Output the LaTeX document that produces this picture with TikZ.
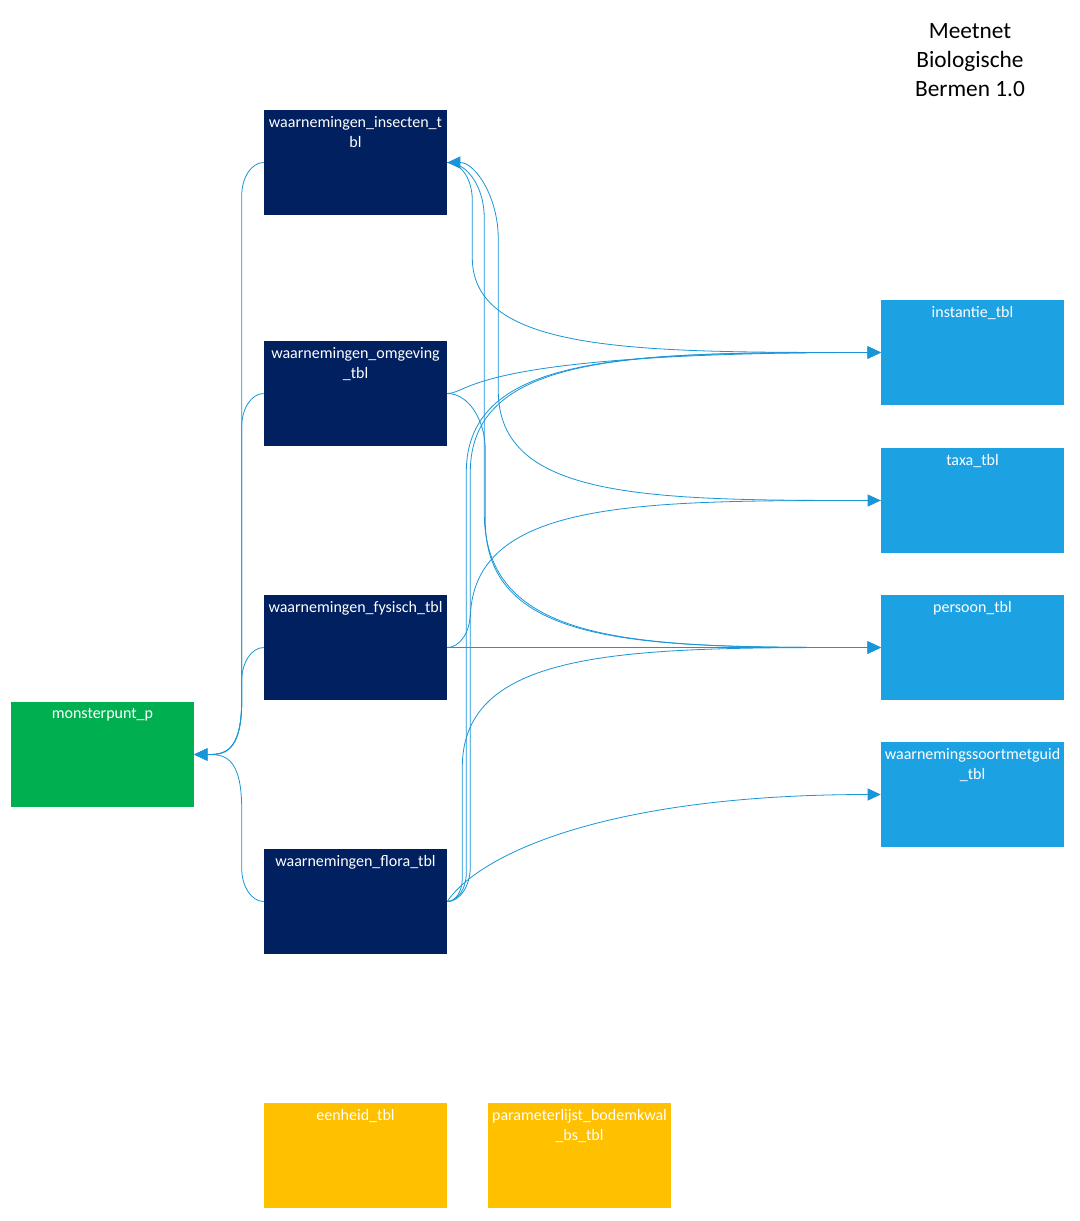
\documentclass[tikz,border=0pt]{standalone}
\usepackage{fontspec}
\setmainfont{Carlito}
\usetikzlibrary{arrows.meta,calc}

\definecolor{navytbl}{RGB}{0,32,96}
\definecolor{greentbl}{RGB}{0,176,80}
\definecolor{bluetbl}{RGB}{28,161,226}
\definecolor{goldtbl}{RGB}{255,192,0}
\definecolor{linkblue}{RGB}{24,150,215}

\tikzset{
  tbl/.style={rectangle, fill=#1, minimum width=137.25pt, minimum height=78.75pt, inner sep=0pt},
  tbllbl/.style={anchor=north, yshift=-5pt, text=white, align=center, inner sep=0pt, font=\fontsize{12}{14.5}\selectfont},
  rel/.style={draw=linkblue, line width=0.6pt, -{Triangle[length=9.75pt,width=9pt]}},
  relback/.style={draw=linkblue, line width=0.6pt, {Triangle[length=9.75pt,width=9pt]}-},
  % visio-like connector: turn #1 px beside the start, sweep of #2 px into the end
  bend conn/.style 2 args={to path={
    let \p1=(\tikztostart), \p2=(\tikztotarget),
        \n1={sign(\y2-\y1)}, \n4={#1*0.75},
        \n2={min(#2*0.75,0.5*abs(\y2-\y1))},
        \n3={min(1.5*abs(\n4),0.5*abs(\y2-\y1))} in
    .. controls ({\x1+0.55*\n4},\y1) and ({\x1+\n4},{\y1+\n1*0.45*\n3}) .. ({\x1+\n4},{\y1+\n1*\n3})
    -- ({\x1+\n4},{\y2-\n1*\n2})
    .. controls ({\x1+\n4},\y2) and ({\x1+\n4+0.4*(\x2-\x1-\n4)},\y2) .. (\tikztotarget)
  }}
}

\begin{document}
\begin{tikzpicture}[x=0.75pt,y=-0.75pt]
\path[fill=white,use as bounding box] (0,0) rectangle (1079,1221);

% title
\node[align=center, font=\fontsize{17.5}{21.75}\selectfont] (title) at (970,60) {Meetnet\\Biologische\\Bermen 1.0};

% waarnemingen tables
\node[tbl=navytbl, label={[tbllbl]north:{waarnemingen\_insecten\_t\\bl}}] (ins) at (355.5,162.5) {};
\node[tbl=navytbl, label={[tbllbl]north:{waarnemingen\_omgeving\\\_tbl}}] (omg) at (355.5,393.5) {};
\node[tbl=navytbl, label={[tbllbl]north:{waarnemingen\_fysisch\_tbl}}] (fys) at (355.5,647.5) {};
\node[tbl=navytbl, label={[tbllbl]north:{waarnemingen\_flora\_tbl}}] (flo) at (355.5,901.5) {};

% monsterpunt
\node[tbl=greentbl, label={[tbllbl]north:{monsterpunt\_p}}] (mon) at (102.5,754.5) {};

% lookup tables
\node[tbl=bluetbl, label={[tbllbl]north:{instantie\_tbl}}] (inst) at (972.5,352.5) {};
\node[tbl=bluetbl, label={[tbllbl]north:{taxa\_tbl}}] (taxa) at (972.5,500.5) {};
\node[tbl=bluetbl, label={[tbllbl]north:{persoon\_tbl}}] (pers) at (972.5,647.5) {};
\node[tbl=bluetbl, label={[tbllbl]north:{waarnemingssoortmetguid\\\_tbl}}] (wsg) at (972.5,794.5) {};

% loose tables
\node[tbl=goldtbl, label={[tbllbl]north:{eenheid\_tbl}}] (een) at (355.5,1155.5) {};
\node[tbl=goldtbl, label={[tbllbl]north:{parameterlijst\_bodemkwal\\\_bs\_tbl}}] (par) at (579.5,1155.5) {};

% relations to the right
\draw[rel] (ins.east) to[bend conn={25}{110}] (inst.west);
\draw[rel] (ins.east) to[bend conn={37}{135}] (pers.west);
\draw[relback] (ins.east) to[bend conn={51}{110}] (taxa.west);
\draw[rel] (omg.east) .. controls +(23,0) and +(-411,0) .. (inst.west);
\draw[rel] (omg.east) to[bend conn={38}{130}] (pers.west);
\draw[rel] (fys.east) to[bend conn={23}{120}] (inst.west);
\draw[rel] (fys.east) to[bend conn={20}{120}] (pers.west);
\draw[rel] (flo.east) to[bend conn={19}{120}] (inst.west);
\draw[rel] (flo.east) to[bend conn={23}{120}] (taxa.west);
\draw[rel] (flo.east) to[bend conn={15}{120}] (pers.west);
\draw[rel] (flo.east) .. controls +(30,-45) and +(-280,0) .. (wsg.west);

% relations to monsterpunt
\draw[rel] (ins.west) to[bend conn={-22}{55}] (mon.east);
\draw[rel] (omg.west) to[bend conn={-22}{55}] (mon.east);
\draw[rel] (fys.west) to[bend conn={-22}{55}] (mon.east);
\draw[rel] (flo.west) to[bend conn={-22}{55}] (mon.east);

\end{tikzpicture}
\end{document}
